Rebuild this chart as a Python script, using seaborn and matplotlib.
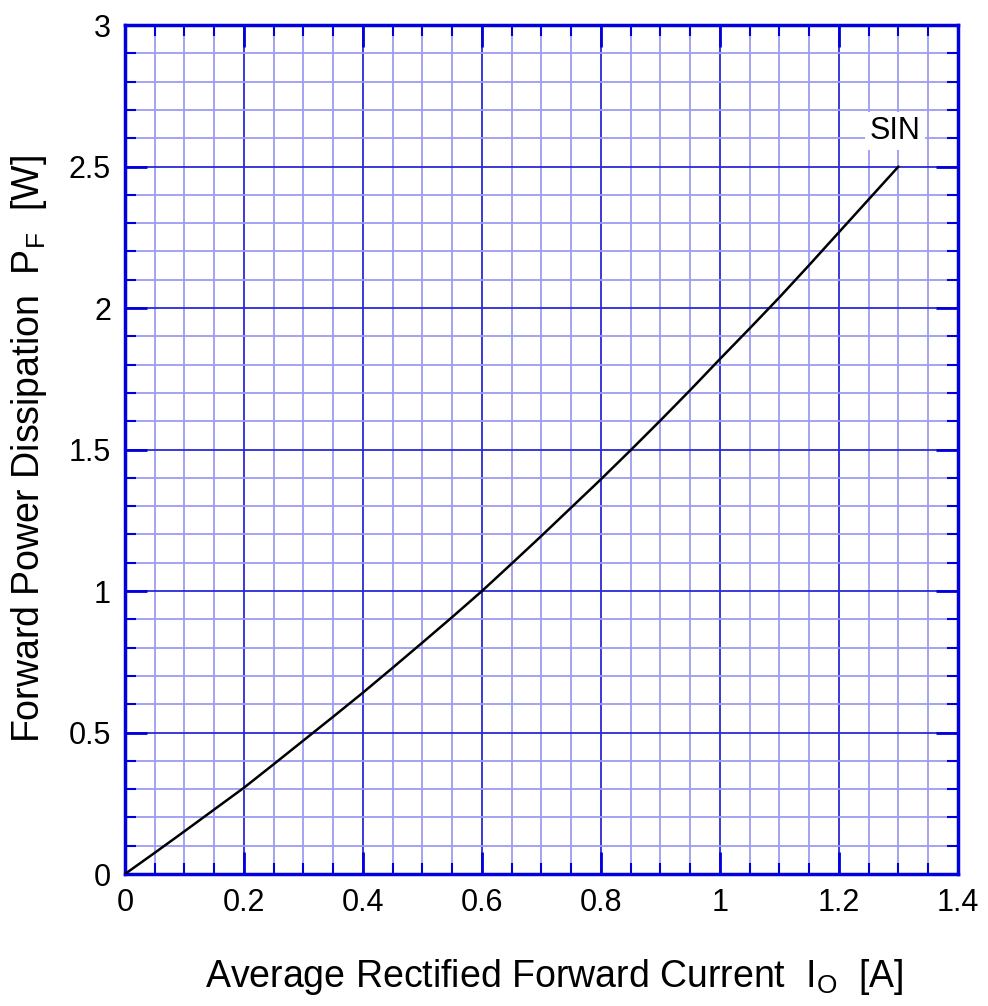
import numpy as np
import pandas as pd
import matplotlib
matplotlib.use("Agg")
import matplotlib.pyplot as plt
import seaborn as sns
from matplotlib.ticker import MultipleLocator

current = [0.0, 0.05, 0.1, 0.15, 0.2, 0.25, 0.3, 0.35, 0.4, 0.45, 0.5, 0.55, 0.6, 0.65, 0.7,
           0.75, 0.8, 0.85, 0.9, 0.95, 1.0, 1.05, 1.1, 1.15, 1.2, 1.25, 1.3]
power = [0.0, 0.075, 0.151, 0.228, 0.305, 0.388, 0.472, 0.556, 0.641, 0.729, 0.818, 0.908, 1.0, 1.097, 1.195,
         1.295, 1.395, 1.498, 1.603, 1.71, 1.82, 1.928, 2.038, 2.152, 2.268, 2.384, 2.50]
series_label = "SIN"
xticks = [0, 0.2, 0.4, 0.6, 0.8, 1, 1.2, 1.4]
xtick_labels = ["0", "0.2", "0.4", "0.6", "0.8", "1", "1.2", "1.4"]
yticks = [0, 0.5, 1, 1.5, 2, 2.5, 3]
ytick_labels = ["0", "0.5", "1", "1.5", "2", "2.5", "3"]

sns.set_theme(style="white")
plt.rcParams['font.family'] = ['Liberation Sans', 'DejaVu Sans']
plt.rcParams['mathtext.fontset'] = 'custom'
plt.rcParams['mathtext.rm'] = 'Liberation Sans'
plt.rcParams['mathtext.it'] = 'Liberation Sans'
plt.rcParams['text.color'] = 'black'
plt.rcParams['axes.labelcolor'] = 'black'

fig = plt.figure(figsize=(9.88, 10.06), dpi=100)
ax = fig.add_axes([0.1265, 0.1312, 0.8431, 0.8439])

df = pd.DataFrame({"current": current, "power": power})
sns.lineplot(data=df, x="current", y="power", ax=ax, color="black", linewidth=1.8, zorder=5)

ax.set_xlim(0, 1.4)
ax.set_ylim(0, 3)
ax.set_xticks(xticks)
ax.set_xticklabels(xtick_labels)
ax.set_yticks(yticks)
ax.set_yticklabels(ytick_labels)
ax.xaxis.set_minor_locator(MultipleLocator(0.05))
ax.yaxis.set_minor_locator(MultipleLocator(0.1))

ax.grid(which="minor", color="#9c9cf2", linewidth=1.3, zorder=1)
ax.grid(which="major", color="#2a2ad8", linewidth=1.3, zorder=2)
ax.set_axisbelow(True)

for s in ax.spines.values():
    s.set_color("#0000dd")
    s.set_linewidth(2.5)
    s.set_visible(True)

ax.tick_params(which="both", direction="in", top=True, right=True, bottom=True, left=True, color="#0000dd")
ax.tick_params(which="major", length=16, width=2, labelsize=22, pad=10, labelcolor="black")
ax.tick_params(which="minor", length=8, width=1.5)

ax.set_xlabel("Average Rectified Forward Current  $\\mathregular{I_O}$  [A]", fontsize=27, labelpad=28)
ax.xaxis.label.set_x(0.515)
ax.set_ylabel("Forward Power Dissipation  $\\mathregular{P_F}$  [W]", fontsize=27, labelpad=14)

ax.text(1.294, 2.625, series_label, fontsize=22, ha="center", va="center", zorder=6,
        bbox=dict(facecolor="white", edgecolor="none", pad=3))

fig.savefig("out.png", dpi=100)
